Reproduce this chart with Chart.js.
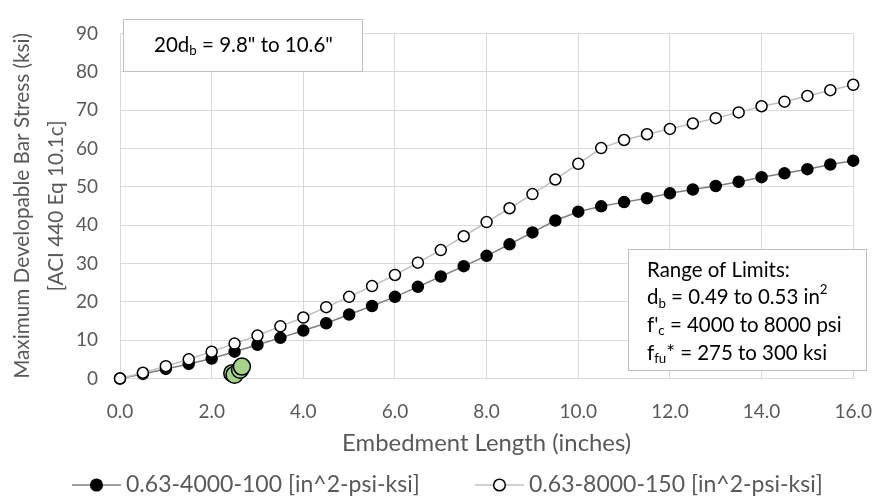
<!DOCTYPE html>
<html>
<head>
<meta charset="utf-8">
<script src="https://cdn.jsdelivr.net/npm/chart.js@4.4.0/dist/chart.umd.min.js"></script>
<style>
  html, body { margin: 0; padding: 0; background: #fff; }
</style>
</head>
<body>
<canvas id="chart" width="894" height="498"></canvas>
<script>
// data
const embedLen = [0, 0.5, 1, 1.5, 2, 2.5, 3, 3.5, 4, 4.5, 5, 5.5, 6, 6.5, 7, 7.5, 8,
                  8.5, 9, 9.5, 10, 10.5, 11, 11.5, 12, 12.5, 13, 13.5, 14, 14.5, 15, 15.5, 16];
const stress4000 = [0, 1.2, 2.5, 3.8, 5.2, 7.0, 8.8, 10.6, 12.5, 14.4, 16.7, 18.9, 21.3, 23.9, 26.6, 29.3, 32.0,
                    35.0, 38.1, 41.2, 43.5, 44.9, 46.0, 47.0, 48.3, 49.3, 50.2, 51.3, 52.5, 53.5, 54.6, 55.8, 56.8];
const stress8000 = [0, 1.5, 3.2, 5.0, 7.0, 9.1, 11.2, 13.6, 15.9, 18.6, 21.3, 24.1, 27.0, 30.2, 33.5, 37.1, 40.8,
                    44.4, 48.1, 51.9, 56.0, 60.1, 62.2, 63.7, 65.1, 66.5, 67.9, 69.4, 71.0, 72.2, 73.7, 75.2, 76.6];
const testLen = [2.45, 2.5, 2.62, 2.66];
const testStress = [1.4, 1.0, 2.3, 3.1];
const seriesNames = ['0.63-4000-100 [in^2-psi-ksi]', '0.63-8000-150 [in^2-psi-ksi]'];

const FONT = 'Lato, "Open Sans", sans-serif';
const TEXT = '#595959';

function pts(xs, ys) {
    return xs.map((x, i) => ({ x: x, y: ys[i] }));
}

// font size that makes a string about w pixels wide
function fitSize(ctx, text, w) {
    ctx.font = '100px ' + FONT;
    return 100 * w / ctx.measureText(text).width;
}

// draws a run of text pieces, some of them sub/superscript
function richText(ctx, parts, x, y, size) {
    let cx = x;
    parts.forEach(p => {
        let s = size, dy = 0;
        if (p.sub) { s = size * 0.65; dy = size * 0.28; }
        if (p.sup) { s = size * 0.65; dy = -size * 0.38; }
        ctx.font = s + 'px ' + FONT;
        ctx.fillText(p.t, cx, y + dy);
        cx += ctx.measureText(p.t).width;
    });
    return cx - x;
}
function richWidth(ctx, parts, size) {
    let w = 0;
    parts.forEach(p => {
        let s = (p.sub || p.sup) ? size * 0.65 : size;
        ctx.font = s + 'px ' + FONT;
        w += ctx.measureText(p.t).width;
    });
    return w;
}

const extras = {
    id: 'extras',
    afterDraw(chart) {
        const ctx = chart.ctx;
        const area = chart.chartArea;
        ctx.save();
        ctx.textBaseline = 'middle';

        // box top-left
        ctx.fillStyle = '#fff';
        ctx.fillRect(123.5, 19.5, 239, 52);
        ctx.strokeStyle = '#bfbfbf';
        ctx.lineWidth = 1;
        ctx.strokeRect(123.5, 19.5, 239, 52);
        ctx.fillStyle = '#000';
        const l1 = [{ t: '20d' }, { t: 'b', sub: true }, { t: ' = 9.8" to 10.6"' }];
        let fs = 18 * 179 / richWidth(ctx, l1, 18);
        const w1 = richWidth(ctx, l1, fs);
        richText(ctx, l1, 243.5 - w1 / 2, 45, fs);

        // box lower-right
        ctx.fillStyle = '#fff';
        ctx.fillRect(628.5, 249.5, 238, 121);
        ctx.strokeRect(628.5, 249.5, 238, 121);
        ctx.fillStyle = '#000';
        const lines = [
            [{ t: 'Range of Limits:' }],
            [{ t: 'd' }, { t: 'b', sub: true }, { t: ' = 0.49 to 0.53 in' }, { t: '2', sup: true }],
            [{ t: "f'" }, { t: 'c', sub: true }, { t: ' = 4000 to 8000 psi' }],
            [{ t: 'f' }, { t: 'fu', sub: true }, { t: '* = 275 to 300 ksi' }]
        ];
        fs = fitSize(ctx, 'Range of Limits:', 143);
        lines.forEach((ln, i) => richText(ctx, ln, 647, 270 + i * 27.7, fs));

        // axis titles
        ctx.fillStyle = TEXT;
        ctx.textAlign = 'center';
        const xTitle = 'Embedment Length (inches)';
        ctx.font = fitSize(ctx, xTitle, 289) + 'px ' + FONT;
        ctx.fillText(xTitle, (area.left + area.right) / 2, 443);
        const yTitle = 'Maximum Developable Bar Stress (ksi)';
        const ys = fitSize(ctx, yTitle, 346);
        const cy = (area.top + area.bottom) / 2;
        ctx.save();
        ctx.translate(22, cy);
        ctx.rotate(-Math.PI / 2);
        ctx.font = ys + 'px ' + FONT;
        ctx.fillText(yTitle, 0, 0);
        ctx.fillText('[ACI 440 Eq 10.1c]', 0, 34);
        ctx.restore();

        // legend
        ctx.textAlign = 'left';
        const ly = 485;
        const lsize = fitSize(ctx, seriesNames[0], 294);
        const items = [
            { x0: 72, line: '#7f7f7f', fill: '#000', name: seriesNames[0] },
            { x0: 475, line: '#bfbfbf', fill: '#fff', name: seriesNames[1] }
        ];
        items.forEach(it => {
            ctx.strokeStyle = it.line;
            ctx.lineWidth = 1.5;
            ctx.beginPath();
            ctx.moveTo(it.x0, ly);
            ctx.lineTo(it.x0 + 49, ly);
            ctx.stroke();
            ctx.beginPath();
            ctx.arc(it.x0 + 24.5, ly, 5.8, 0, Math.PI * 2);
            ctx.fillStyle = it.fill;
            ctx.fill();
            ctx.strokeStyle = '#000';
            ctx.stroke();
            ctx.fillStyle = TEXT;
            ctx.font = lsize + 'px ' + FONT;
            ctx.fillText(it.name, it.x0 + 54, ly);
        });
        ctx.restore();
    }
};

new Chart(document.getElementById('chart'), {
    type: 'scatter',
    data: {
        datasets: [
            {
                label: 'tests',
                data: pts(testLen, testStress),
                backgroundColor: '#a9d18e',
                borderColor: '#000',
                pointRadius: 8.5,
                pointBorderWidth: 1.5,
                showLine: false,
                clip: false,
                order: 0
            },
            {
                label: seriesNames[1],
                data: pts(embedLen, stress8000),
                showLine: true,
                borderColor: '#bfbfbf',
                borderWidth: 1.5,
                pointBackgroundColor: '#fff',
                pointBorderColor: '#000',
                pointBorderWidth: 1.5,
                pointRadius: 5.5,
                clip: false,
                order: 1
            },
            {
                label: seriesNames[0],
                data: pts(embedLen, stress4000),
                showLine: true,
                borderColor: '#7f7f7f',
                borderWidth: 1.5,
                pointBackgroundColor: '#000',
                pointBorderColor: '#000',
                pointBorderWidth: 1.5,
                pointRadius: 5.5,
                clip: false,
                order: 2
            }
        ]
    },
    options: {
        responsive: false,
        animation: false,
        layout: { padding: { top: 14, right: 21, bottom: 39.5, left: 0 } },
        plugins: { legend: { display: false }, tooltip: { enabled: false } },
        scales: {
            x: {
                type: 'linear', min: 0, max: 16,
                afterFit: s => { s.height = 80; },
                grid: { color: '#d9d9d9', drawTicks: false },
                border: { color: '#d9d9d9' },
                ticks: {
                    stepSize: 2, padding: 22, color: TEXT,
                    font: { family: FONT, size: 19 },
                    callback: v => v.toFixed(1)
                }
            },
            y: {
                min: 0, max: 90,
                afterFit: s => { s.width = 120; },
                grid: { color: '#d9d9d9', drawTicks: false },
                border: { color: '#d9d9d9' },
                ticks: {
                    stepSize: 10, padding: 22, color: TEXT,
                    font: { family: FONT, size: 19 }
                }
            }
        }
    },
    plugins: [extras]
});
</script>
</body>
</html>
